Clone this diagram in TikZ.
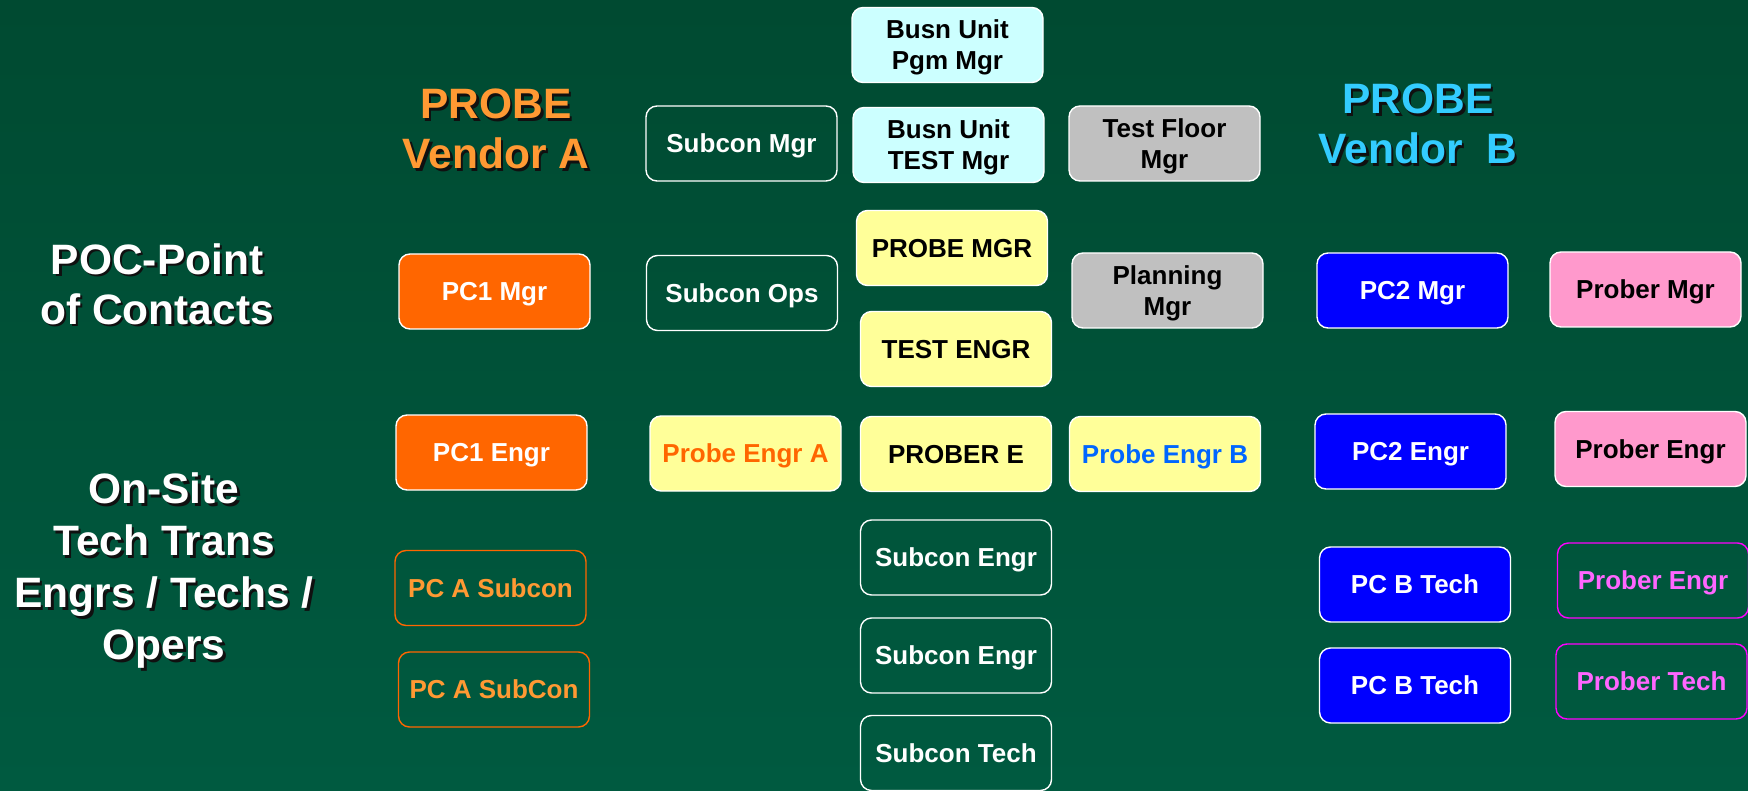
\documentclass[tikz,border=0pt]{standalone}
\usepackage{fontspec}
\setmainfont{Liberation Sans}
\usetikzlibrary{positioning}

\definecolor{bgtop}{HTML}{004A31}
\definecolor{bgmid}{HTML}{00553B}
\definecolor{bgbot}{HTML}{005A40}
\definecolor{cyanfill}{HTML}{CCFFFF}
\definecolor{yellowfill}{HTML}{FFFF99}
\definecolor{grayfill}{HTML}{C0C0C0}
\definecolor{orangefill}{HTML}{FF6600}
\definecolor{bluefill}{HTML}{0000FF}
\definecolor{pinkfill}{HTML}{FF99CC}
\definecolor{titleorange}{HTML}{FF9933}
\definecolor{titlecyan}{HTML}{33CCFF}
\definecolor{engrblue}{HTML}{0066FF}
\definecolor{magentaline}{HTML}{FF00FF}
\definecolor{magentatext}{HTML}{FF66FF}
\definecolor{shadowcol}{HTML}{101010}

\tikzset{
  box/.style={rectangle, rounded corners=11pt, minimum width=191pt,
    minimum height=75pt, inner sep=0pt, align=center, draw=white,
    line width=1.4pt, text depth=0pt,
    font=\fontsize{26}{31}\selectfont\bfseries},
  cyanbox/.style={box, fill=cyanfill, text=black},
  yellowbox/.style={box, fill=yellowfill, text=black},
  graybox/.style={box, fill=grayfill, text=black},
  orangebox/.style={box, fill=orangefill, text=white},
  bluebox/.style={box, fill=bluefill, text=white},
  pinkbox/.style={box, fill=pinkfill, text=black},
  openbox/.style={box, text=white},
  orangeopen/.style={box, draw=orangefill, text=titleorange},
  magentaopen/.style={box, draw=magentaline, text=magentatext},
  heading/.style={align=center, inner sep=0pt,
    font=\fontsize{42.5}{50}\selectfont\bfseries},
  headshadow/.style={heading, text=shadowcol, xshift=2.5pt, yshift=-2.5pt},
}

\begin{document}
\begin{tikzpicture}[x=1pt, y=-1pt]
  % slide background
  \shade[top color=bgtop, middle color=bgmid, bottom color=bgbot]
    (0,0) rectangle (1748,791);
  \useasboundingbox (0,0) rectangle (1748,791);

  % row headings and vendor titles (with drop shadow)
  \node[headshadow] (pocS) at (157,284) {POC-Point\\of Contacts};
  \node[heading, text=white] (poc) at (157,284) {POC-Point\\of Contacts};
  \node[headshadow, font=\fontsize{42.5}{52}\selectfont\bfseries] (onsiteS) at (164,571)
    {On-Site\\Tech Trans\\Engrs / Techs /\\Opers};
  \node[heading, text=white, font=\fontsize{42.5}{52}\selectfont\bfseries] (onsite) at (164,571)
    {On-Site\\Tech Trans\\Engrs / Techs /\\Opers};
  \node[headshadow] (vendAS) at (496,129) {PROBE\\Vendor A};
  \node[heading, text=titleorange] (vendA) at (496,129) {PROBE\\Vendor A};
  \node[headshadow] (vendBS) at (1418,124) {PROBE\\Vendor\ \ B};
  \node[heading, text=titlecyan] (vendB) at (1418,124) {PROBE\\Vendor\ \ B};

  % centre column: business unit and probe floor
  \node[cyanbox] (bupgm) at (947.5,45) {Busn Unit\\Pgm Mgr};
  \node[cyanbox] (butest) at (948.5,145) {Busn Unit\\TEST Mgr};
  \node[yellowbox] (probemgr) at (952,248) {PROBE MGR};
  \node[yellowbox] (testengr) at (956,349) {TEST ENGR};
  \node[yellowbox] (probere) at (956,454) {PROBER E};
  \node[openbox] (subengr1) at (956,557.5) {Subcon Engr};
  \node[openbox] (subengr2) at (956,655.5) {Subcon Engr};
  \node[openbox] (subtech) at (956,753) {Subcon Tech};

  % subcontract management
  \node[openbox] (submgr) at (741.5,143.5) {Subcon Mgr};
  \node[openbox] (subops) at (742,293) {Subcon Ops};
  \node[yellowbox, text=orangefill] (pengrA) at (745.5,453.5) {Probe Engr A};

  % test floor and planning
  \node[graybox] (tfmgr) at (1164.5,143.5) {Test Floor\\Mgr};
  \node[graybox] (planmgr) at (1167.5,290.5) {Planning\\Mgr};
  \node[yellowbox, text=engrblue] (pengrB) at (1165,454) {Probe Engr B};

  % vendor A column
  \node[orangebox] (pc1mgr) at (494.5,291.5) {PC1 Mgr};
  \node[orangebox] (pc1engr) at (491.5,452.5) {PC1 Engr};
  \node[orangeopen] (pcasub1) at (490.5,588) {PC A Subcon};
  \node[orangeopen] (pcasub2) at (494,689.5) {PC A SubCon};

  % vendor B columns
  \node[bluebox] (pc2mgr) at (1412.5,290.5) {PC2 Mgr};
  \node[bluebox] (pc2engr) at (1410.5,451.5) {PC2 Engr};
  \node[bluebox] (pcbtech1) at (1415,584.5) {PC B Tech};
  \node[bluebox] (pcbtech2) at (1415,685.5) {PC B Tech};
  \node[pinkbox] (probermgr) at (1645.5,289.5) {Prober Mgr};
  \node[pinkbox] (proberengr) at (1650.5,449) {Prober Engr};
  \node[magentaopen] (proberengr2) at (1653,580.5) {Prober Engr};
  \node[magentaopen] (probertech) at (1651.5,681.5) {Prober Tech};
\end{tikzpicture}
\end{document}
